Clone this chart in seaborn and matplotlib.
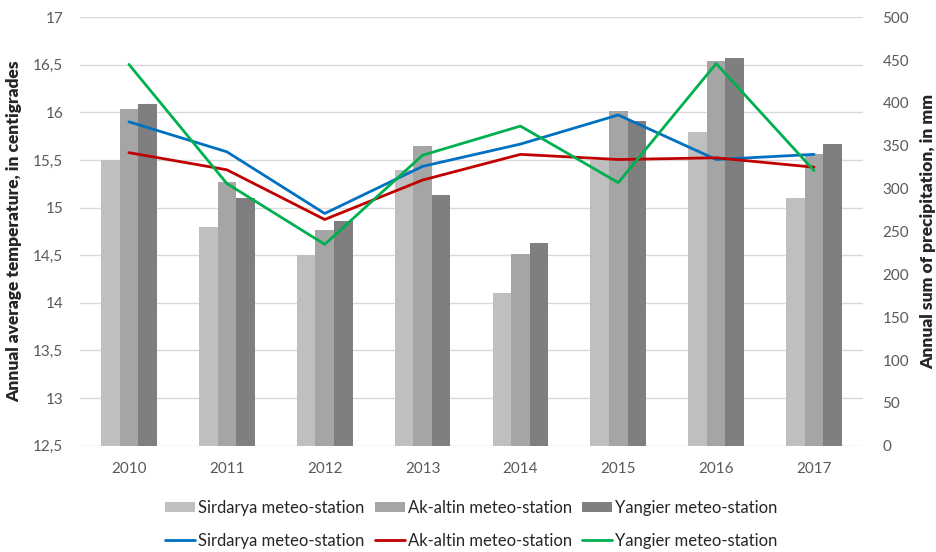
import numpy as np
import pandas as pd
import matplotlib.pyplot as plt
import seaborn as sns
from matplotlib.ticker import FuncFormatter, MultipleLocator

# ========================
# Data
# ========================
years = ["2010", "2011", "2012", "2013", "2014", "2015", "2016", "2017"]
stations = ["Sirdarya meteo-station", "Ak-altin meteo-station", "Yangier meteo-station"]

# annual average temperature, centigrades (bars, left axis)
temp_sirdarya = [15.50, 14.80, 14.50, 15.40, 14.10, 15.50, 15.79, 15.10]
temp_akaltin = [16.04, 15.27, 14.77, 15.65, 14.51, 16.02, 16.54, 15.56]
temp_yangier = [16.09, 15.10, 14.86, 15.13, 14.63, 15.91, 16.57, 15.67]

# annual sum of precipitation, mm (lines, right axis)
prec_sirdarya = [378, 343, 271, 326, 352, 386, 334, 340]
prec_akaltin = [342, 322, 264, 310, 340, 334, 336, 325]
prec_yangier = [445, 306, 235, 339, 373, 307, 446, 321]

bar_colors = ["#BFBFBF", "#A5A5A5", "#7F7F7F"]
line_colors = ["#0070C0", "#C00000", "#00B050"]

temp_df = pd.DataFrame({
    "year": years * 3,
    "station": np.repeat(stations, len(years)),
    "temp": temp_sirdarya + temp_akaltin + temp_yangier,
})
prec_df = pd.DataFrame({
    "pos": list(range(len(years))) * 3,
    "station": np.repeat(stations, len(years)),
    "prec": prec_sirdarya + prec_akaltin + prec_yangier,
})

# ========================
# Plot
# ========================
sns.set_style("white")
plt.rcParams["font.family"] = ["Lato", "DejaVu Sans"]

fig = plt.figure(figsize=(9.37, 5.52), dpi=100)
ax = fig.add_axes([0.0854, 0.1926, 0.8356, 0.7761])

sns.barplot(data=temp_df, x="year", y="temp", hue="station", order=years,
            hue_order=stations, palette=bar_colors, width=0.57, gap=0,
            saturation=1, linewidth=0, legend=False, ax=ax)
ax.set_ylim(12.5, 17)
ax.yaxis.set_major_locator(MultipleLocator(0.5))
ax.yaxis.set_major_formatter(FuncFormatter(lambda v, p: f"{v:g}".replace(".", ",")))
ax.grid(axis="y", color="#D9D9D9", lw=1)
ax.set_axisbelow(True)
ax.set_xlim(-0.5, len(years) - 0.5)
ax.set_xlabel("")
ax.set_ylabel("Annual average temperature, in centigrades", fontsize=12.5,
              fontweight="heavy", labelpad=8)
ax.tick_params(axis="y", length=0, pad=12, labelsize=11, labelcolor="#595959")
ax.tick_params(axis="x", length=0, pad=12, labelsize=11, labelcolor="#595959")
for s in ax.spines.values():
    s.set_visible(False)

ax2 = ax.twinx()
sns.lineplot(data=prec_df, x="pos", y="prec", hue="station", hue_order=stations,
             palette=line_colors, lw=2, legend=False, ax=ax2)
ax2.set_ylim(0, 500)
ax2.yaxis.set_major_locator(MultipleLocator(50))
ax2.set_ylabel("Annual sum of precipitation, in mm", fontsize=12.5,
               fontweight="heavy", labelpad=8)
ax2.tick_params(axis="y", length=0, pad=14, labelsize=11, labelcolor="#595959")
ax2.set_xlim(-0.5, len(years) - 0.5)
for s in ax2.spines.values():
    s.set_visible(False)

# legends at the bottom
bar_handles = [c.patches[0] for c in ax.containers]
fig.legend(bar_handles, stations, loc="center", bbox_to_anchor=(0.503, 0.080),
           ncol=3, frameon=False, fontsize=12, handlelength=1.8,
           handleheight=0.6, handletextpad=0.2, columnspacing=0.6)
fig.legend(ax2.lines[:3], stations, loc="center", bbox_to_anchor=(0.503, 0.020),
           ncol=3, frameon=False, fontsize=12, handlelength=1.8,
           handletextpad=0.2, columnspacing=0.6)

plt.savefig("out.png", dpi=100)
plt.close()
